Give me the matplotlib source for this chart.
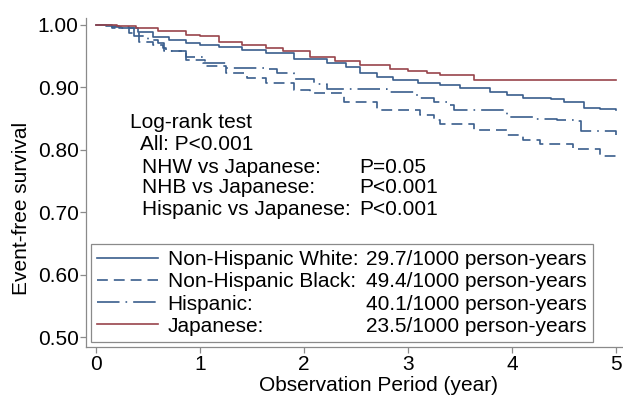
import matplotlib
matplotlib.use("Agg")
import matplotlib.pyplot as plt
from matplotlib.lines import Line2D

plt.rcParams["font.family"] = ["Liberation Sans", "DejaVu Sans"]
plt.rcParams["font.size"] = 15

# Kaplan-Meier style step curves
t_nhw = [0, 0.1, 0.22, 0.4, 0.55, 0.7, 0.87, 1.0, 1.18, 1.4, 1.63, 1.9, 2.22, 2.4,
         2.54, 2.7, 2.86, 3.1, 3.31, 3.5, 3.79, 3.95, 4.11, 4.37, 4.5, 4.69, 4.85, 5.0]
s_nhw = [1.0, 0.998, 0.995, 0.988, 0.981, 0.976, 0.971, 0.968, 0.964, 0.96, 0.955, 0.945,
         0.939, 0.932, 0.923, 0.917, 0.912, 0.907, 0.904, 0.899, 0.893, 0.888, 0.883,
         0.882, 0.876, 0.867, 0.865, 0.863]

t_nhb = [0, 0.15, 0.32, 0.41, 0.55, 0.64, 0.67, 0.87, 1.05, 1.25, 1.45, 1.63, 1.9, 2.06,
         2.38, 2.7, 3.12, 3.25, 3.31, 3.63, 3.95, 4.11, 4.27, 4.59, 4.85, 5.0]
s_nhb = [1.0, 0.996, 0.987, 0.973, 0.968, 0.963, 0.958, 0.944, 0.934, 0.923, 0.915, 0.907,
         0.896, 0.891, 0.877, 0.864, 0.856, 0.848, 0.842, 0.832, 0.824, 0.816, 0.809,
         0.801, 0.790, 0.787]

t_his = [0, 0.15, 0.37, 0.5, 0.6, 0.65, 0.87, 1.03, 1.25, 1.63, 1.74, 1.9, 2.1, 2.22,
         2.8, 3.09, 3.25, 3.38, 3.44, 3.95, 4.2, 4.43, 4.63, 4.66, 5.0]
s_his = [1.0, 0.995, 0.982, 0.976, 0.971, 0.958, 0.949, 0.939, 0.931, 0.929, 0.923, 0.913,
         0.905, 0.897, 0.893, 0.883, 0.876, 0.872, 0.864, 0.853, 0.85, 0.848, 0.846,
         0.830, 0.824]

t_jap = [0, 0.2, 0.38, 0.6, 0.87, 1.0, 1.18, 1.4, 1.63, 1.8, 2.06, 2.3, 2.54, 2.83, 3.0,
         3.18, 3.31, 3.58, 3.63, 5.0]
s_jap = [1.0, 0.998, 0.995, 0.99, 0.984, 0.982, 0.973, 0.968, 0.963, 0.958, 0.949, 0.942,
         0.936, 0.929, 0.926, 0.923, 0.920, 0.919, 0.912, 0.912]

group_names = ["Non-Hispanic White:", "Non-Hispanic Black:", "Hispanic:", "Japanese:"]
rates = ["29.7/1000 person-years", "49.4/1000 person-years",
         "40.1/1000 person-years", "23.5/1000 person-years"]

test_lines = ["NHW vs Japanese:", "NHB vs Japanese:", "Hispanic vs Japanese:"]
test_pvals = ["P=0.05", "P<0.001", "P<0.001"]

blue = "#3a5e8c"
red = "#98444c"
grey = "#8a8a8a"

fig = plt.figure(figsize=(6.23, 4.0), dpi=100)
ax = fig.add_axes([86 / 623, 53 / 400, 537 / 623, 329 / 400])

lw = 1.2
l1, = ax.step(t_nhw, s_nhw, where="post", color=blue, lw=lw)
l2, = ax.step(t_nhb, s_nhb, where="post", color=blue, lw=lw, dashes=(6.5, 3.6))
l3, = ax.step(t_his, s_his, where="post", color=blue, lw=lw, dashes=(13.5, 3.6, 1, 3.6))
l4, = ax.step(t_jap, s_jap, where="post", color=red, lw=lw)

ax.set_xlim(-0.096, 5.067)
ax.set_ylim(0.484, 1.011)
ax.set_xticks([0, 1, 2, 3, 4, 5])
ax.set_yticks([0.5, 0.6, 0.7, 0.8, 0.9, 1.0])
ax.set_yticklabels(["%.2f" % v for v in [0.5, 0.6, 0.7, 0.8, 0.9, 1.0]])

for side in ["top", "right"]:
    ax.spines[side].set_visible(False)
for side in ["left", "bottom"]:
    ax.spines[side].set_color(grey)
    ax.spines[side].set_linewidth(0.9)
ax.tick_params(axis="both", direction="out", color=grey, width=0.9, length=4.3,
               labelsize=15)
ax.tick_params(axis="x", pad=1.5)
ax.tick_params(axis="y", pad=1.0)

ax.set_xlabel("Observation Period (year)", fontsize=15)
ax.set_ylabel("Event-free survival", fontsize=15)
ax.xaxis.set_label_coords(0.544, -0.088)
ax.yaxis.set_label_coords(-0.1024, 0.42)

# log-rank annotation
ax.text(0.327, 0.843, "Log-rank test", fontsize=15, va="center")
ax.text(0.423, 0.808, "All: P<0.001", fontsize=15, va="center")
y_rows = [0.772, 0.739, 0.704]
for lab, p, yy in zip(test_lines, test_pvals, y_rows):
    ax.text(0.44, yy, lab, fontsize=15, va="center")
    ax.text(2.53, yy, p, fontsize=15, va="center")

# legend: names column + rate column
blank = [Line2D([], [], linestyle="none") for _ in rates]
leg = ax.legend([l1, l2, l3, l4] + blank, group_names + rates, ncol=2,
                loc="lower left", bbox_to_anchor=(0.0093, 0.0152), borderaxespad=0,
                fontsize=15, handlelength=2.9, handletextpad=0.48, columnspacing=-3.02,
                labelspacing=0.15, borderpad=0.3, fancybox=False, framealpha=1)
leg.get_frame().set_edgecolor(grey)
leg.get_frame().set_linewidth(0.9)

fig.savefig("out.png", dpi=100)
